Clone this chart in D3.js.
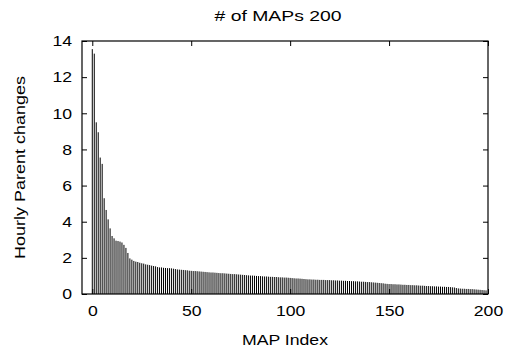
<!DOCTYPE html>
<html><head><meta charset="utf-8">
<script src="https://cdn.jsdelivr.net/npm/d3@7"></script>
<style>body{margin:0;background:#fff}svg{display:block}text{font-family:"Liberation Sans",Arial,sans-serif;fill:#000}</style>
</head><body>
<script>
const title = "# of MAPs 200";
const xLabel = "MAP Index";
const yLabel = "Hourly Parent changes";
const xTicks = [0, 50, 100, 150, 200];
const yTicks = [0, 2, 4, 6, 8, 10, 12, 14];
const values = [
 13.55,13.3,9.5,8.95,7.55,7.2,5.3,4.65,4.13,3.63,
 3.21,3.08,2.95,2.93,2.9,2.85,2.72,2.55,2.27,1.97,
 1.9,1.83,1.79,1.77,1.73,1.7,1.68,1.64,1.62,1.6,
 1.57,1.55,1.53,1.49,1.47,1.47,1.45,1.44,1.43,1.43,
 1.42,1.4,1.38,1.36,1.35,1.34,1.33,1.32,1.31,1.29,
 1.28,1.27,1.27,1.26,1.25,1.24,1.23,1.22,1.21,1.2,
 1.19,1.19,1.18,1.17,1.16,1.15,1.15,1.14,1.13,1.12,
 1.11,1.1,1.1,1.09,1.08,1.07,1.06,1.05,1.04,1.03,
 1.02,1.02,1.01,1.0,0.99,0.99,0.98,0.97,0.97,0.96,
 0.95,0.95,0.94,0.94,0.93,0.92,0.92,0.91,0.91,0.9,
 0.89,0.88,0.87,0.86,0.86,0.85,0.84,0.83,0.82,0.81,
 0.81,0.8,0.8,0.79,0.79,0.78,0.78,0.78,0.77,0.77,
 0.77,0.76,0.76,0.75,0.75,0.74,0.74,0.73,0.73,0.72,
 0.72,0.71,0.71,0.7,0.7,0.69,0.68,0.68,0.67,0.66,
 0.66,0.65,0.64,0.63,0.62,0.61,0.6,0.59,0.57,0.56,
 0.55,0.55,0.54,0.54,0.53,0.53,0.52,0.51,0.51,0.5,
 0.5,0.49,0.49,0.48,0.48,0.47,0.46,0.46,0.45,0.44,
 0.44,0.43,0.43,0.42,0.42,0.41,0.41,0.4,0.4,0.39,
 0.39,0.38,0.37,0.36,0.33,0.31,0.3,0.29,0.29,0.28,
 0.28,0.27,0.27,0.26,0.25,0.24,0.23,0.22,0.21,0.2
];
const indices = values.map((v, i) => i);

const W = 513, H = 352;
const L = 82, R = 488, T = 41, B = 294;
const svg = d3.select("body").append("svg").attr("width", W).attr("height", H);
const x = d3.scaleLinear().domain([-5.2, 200]).range([L, R]);
const y = d3.scaleLinear().domain([0, 14]).range([B, T]);

// bars (impulses)
svg.append("g").selectAll("line").data(indices).join("line")
  .attr("x1", i => x(i)).attr("x2", i => x(i))
  .attr("y1", y(0)).attr("y2", i => y(values[i]))
  .attr("stroke", "#000").attr("stroke-width", 1);

const tl = 5;
const fs = 15;
const digitW = 9.8;
// axes
const ax = svg.append("g");
ax.append("g").attr("transform", `translate(0,${B})`)
  .call(d3.axisBottom(x).tickValues(xTicks).tickSize(-tl).tickPadding(11).tickFormat(d3.format("d")));
ax.append("g").attr("transform", `translate(0,${T})`)
  .call(d3.axisTop(x).tickValues(xTicks).tickSize(-tl).tickFormat(""));
ax.append("g").attr("transform", `translate(${L},0)`)
  .call(d3.axisLeft(y).tickValues(yTicks).tickSize(-tl).tickPadding(10).tickFormat(d3.format("d")));
ax.append("g").attr("transform", `translate(${R},0)`)
  .call(d3.axisRight(y).tickValues(yTicks).tickSize(-tl).tickFormat(""));
ax.selectAll(".domain").remove();
ax.selectAll(".tick line").attr("stroke", "#000");
ax.selectAll(".tick text").attr("font-size", fs).attr("font-family", '"Liberation Sans",Arial,sans-serif')
  .each(function(d) {
    const t = d3.select(this).text();
    if (t) d3.select(this).attr("textLength", t.length * digitW).attr("lengthAdjust", "spacingAndGlyphs");
  });

svg.append("rect").attr("x", L).attr("y", T).attr("width", R - L).attr("height", B - T)
  .attr("fill", "none").attr("stroke", "#000").attr("stroke-width", 1.2);

svg.append("text").attr("x", 278).attr("y", 21).attr("text-anchor", "middle").attr("font-size", fs)
  .attr("textLength", 127).attr("lengthAdjust", "spacingAndGlyphs").text(title);
svg.append("text").attr("x", 285).attr("y", 345).attr("text-anchor", "middle").attr("font-size", fs)
  .attr("textLength", 86).attr("lengthAdjust", "spacingAndGlyphs").text(xLabel);
svg.append("text").attr("transform", `translate(25,${(T + B) / 2}) rotate(-90)`).attr("text-anchor", "middle").attr("font-size", fs)
  .attr("textLength", 183).attr("lengthAdjust", "spacingAndGlyphs").text(yLabel);
</script>
</body></html>
